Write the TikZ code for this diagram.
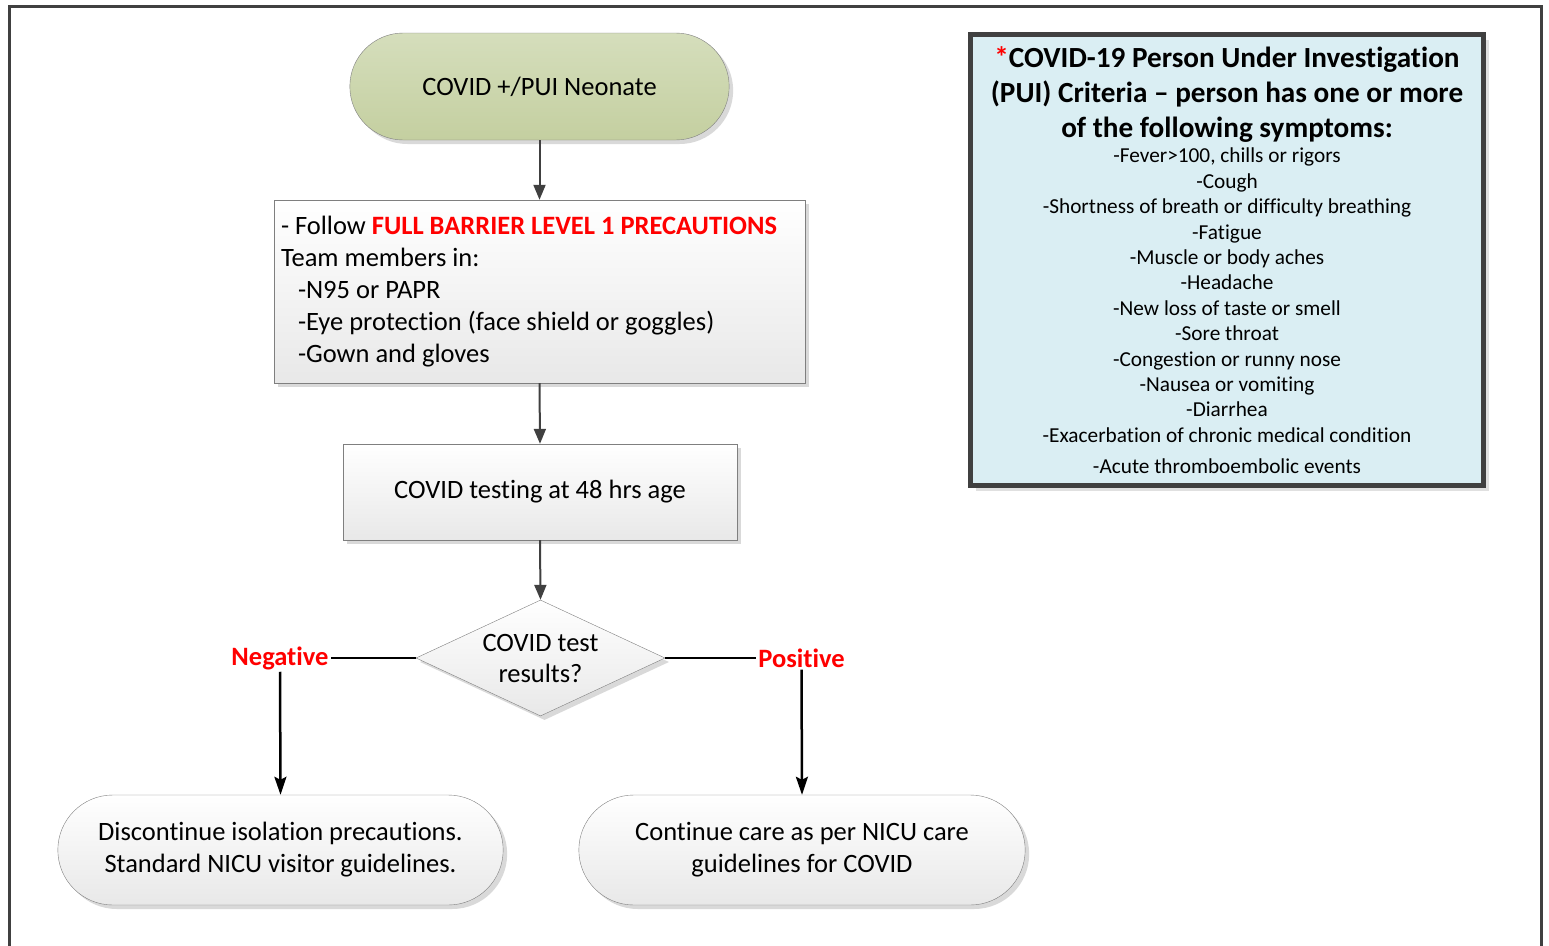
\documentclass[tikz,border=0pt]{standalone}
\usepackage{fontspec}
\setmainfont{Carlito}[Ligatures=NoCommon]
\usepackage{tikz}
\usetikzlibrary{shapes.geometric, shapes.misc, arrows.meta, shadows}
\definecolor{framegray}{HTML}{404040}
\definecolor{boxgray}{HTML}{7F7F7F}
\definecolor{olivetop}{HTML}{D5DEBC}
\definecolor{olivebottom}{HTML}{C4CFA0}
\definecolor{puiblue}{HTML}{DAEEF3}
\tikzstyle{startstop} = [rounded rectangle, draw=boxgray, top color=white, bottom color=black!9, align=flush center, font=\fontsize{26.5}{32}\selectfont, drop shadow={shadow xshift=4pt, shadow yshift=-4pt, fill=black, opacity=.15}]
\tikzstyle{process}   = [rectangle, draw=boxgray, top color=white, bottom color=black!9, font=\fontsize{26.5}{32}\selectfont, drop shadow={shadow xshift=4pt, shadow yshift=-4pt, fill=black, opacity=.15}]
\tikzstyle{decision}  = [diamond, draw=boxgray, top color=white, bottom color=black!9, aspect=2.15, inner sep=0pt, align=flush center, font=\fontsize{26.5}{31}\selectfont, drop shadow={shadow xshift=4pt, shadow yshift=-4pt, fill=black, opacity=.15}]
\tikzstyle{criteria}  = [rectangle, draw=framegray, line width=5pt, fill=puiblue, inner sep=0pt, align=flush center, font=\fontsize{21.3}{25.4}\selectfont, drop shadow={shadow xshift=5pt, shadow yshift=-5pt, fill=black, opacity=.12}]
\tikzstyle{outcome}   = [text=red, inner sep=2pt, font=\fontsize{26.5}{32}\selectfont\bfseries]
\tikzstyle{arrow}     = [line width=2pt, draw=framegray, -{Triangle[length=15pt,width=12pt]}]
\tikzstyle{branch}    = [line width=2.5pt, draw=black, -{Stealth[length=18pt,width=12pt,inset=3pt]}]

\begin{document}
\begin{tikzpicture}[x=1pt, y=-1pt]
      \useasboundingbox (0,0) rectangle (1549,945);
      % Outer frame (open at the bottom)
      \draw [framegray, line width=3pt] (9,950) -- (9,6) -- (1541,6) -- (1541,950);

      % Nodes
      %% Main flow
      \node (neonate)              [startstop, top color=olivetop, bottom color=olivebottom, minimum width=386pt, minimum height=107pt] at (539.5,86.5) {COVID +/PUI Neonate};
      \node (barrier_precautions)  [process, minimum width=531pt, minimum height=183pt, text width=517pt, inner xsep=7pt, align=flush left] at (539.5,291.5)
            {- Follow \textcolor{red}{\bfseries FULL BARRIER LEVEL 1 PRECAUTIONS}\\Team members in:\\\hspace*{17pt}-N95 or PAPR\\\hspace*{17pt}-Eye protection (face shield or goggles)\\\hspace*{17pt}-Gown and gloves};
      \node (covid_testing)        [process, minimum width=394pt, minimum height=96pt] at (540,492) {COVID testing at 48 hrs age};
      \node (test_results)         [decision, minimum width=249pt, minimum height=116pt] at (540.5,658) {COVID test\\results?};
      %% Branches
      \node (negative)             [outcome] at (280,658)   {Negative};
      \node (positive)             [outcome] at (801.5,658) {Positive};
      \node (discontinue_isolation) [startstop, minimum width=452pt, minimum height=110pt] at (280.5,850) {Discontinue isolation precautions.\\Standard NICU visitor guidelines.};
      \node (continue_care)        [startstop, minimum width=453pt, minimum height=110pt] at (802,850) {Continue care as per NICU care\\guidelines for COVID};
      %% Criteria box
      \node (pui_criteria)         [criteria, minimum width=513pt, minimum height=451pt, text width=505pt] at (1227,260)
            {{\fontsize{29.2}{35}\selectfont\bfseries\textcolor{red}{*}COVID-19 Person Under Investigation\\(PUI) Criteria – person has one or more\\of the following symptoms:\par}
             -Fever>100, chills or rigors\\-Cough\\-Shortness of breath or difficulty breathing\\-Fatigue\\-Muscle or body aches\\-Headache\\-New loss of taste or smell\\-Sore throat\\-Congestion or runny nose\\-Nausea or vomiting\\-Diarrhea\\-Exacerbation of chronic medical condition\\[5.6pt]-Acute thromboembolic events};

      % % Arrows
      \draw [arrow] (neonate.south)             -- (barrier_precautions.north);
      \draw [arrow] (barrier_precautions.south) -- (covid_testing.north);
      \draw [arrow] (covid_testing.south)       -- (test_results.north);
      \draw [line width=2.5pt] (test_results.west) -- (negative.east);
      \draw [line width=2.5pt] (test_results.east) -- (positive.west);
      \draw [branch] (negative.south) -- (discontinue_isolation.north);
      \draw [branch] (positive.south) -- (continue_care.north);
    \end{tikzpicture}
\end{document}
